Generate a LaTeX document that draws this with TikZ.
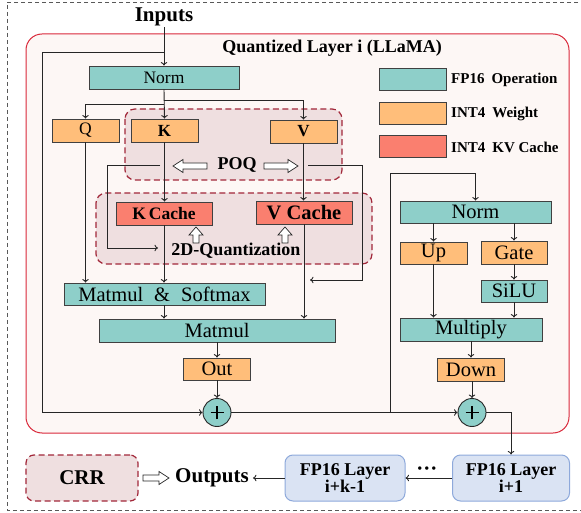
\documentclass[tikz,border=0pt]{standalone}
\usepackage{fontspec}
\setmainfont{Liberation Serif}
\usetikzlibrary{arrows.meta}

\definecolor{fpteal}{HTML}{8ECFC9}
\definecolor{wtorange}{HTML}{FFBE7A}
\definecolor{kvred}{HTML}{FA7F6F}
\definecolor{layerred}{HTML}{D9283A}
\definecolor{layerfill}{HTML}{FDF7F5}
\definecolor{quantfill}{HTML}{EFDFE0}
\definecolor{quantedge}{HTML}{A2283A}
\definecolor{fpblue}{HTML}{DAE3F3}
\definecolor{fpblueedge}{HTML}{8EA9DB}

\newcommand{\setfs}[1]{\fontsize{#1}{#1}\selectfont}
% hollow block arrow: tail x, tip x, y
\newcommand{\hollowh}[3]{%
  \draw[hollow] (#1,{#3-3}) -- ({#2-(#2-#1)/abs(#2-#1)*10},{#3-3}) -- ({#2-(#2-#1)/abs(#2-#1)*10},{#3-6.5})
    -- (#2,#3) -- ({#2-(#2-#1)/abs(#2-#1)*10},{#3+6.5}) -- ({#2-(#2-#1)/abs(#2-#1)*10},{#3+3}) -- (#1,{#3+3}) -- cycle;}
% hollow upward block arrow: x, tail y, tip y
\newcommand{\hollowup}[3]{%
  \draw[hollow] ({#1-3},#2) -- ({#1-3},{#3+8}) -- ({#1-7},{#3+8}) -- (#1,#3)
    -- ({#1+7},{#3+8}) -- ({#1+3},{#3+8}) -- ({#1+3},#2) -- cycle;}

\tikzset{
  box/.style={draw=black!75, line width=0.8pt, inner sep=0pt, rectangle},
  fpbox/.style={box, fill=fpteal},
  wbox/.style={box, fill=wtorange},
  kvbox/.style={box, fill=kvred},
  conn/.style={draw=black!85, line width=0.9pt},
  arr/.style={conn, -{To[length=3.5pt,width=6.5pt]}},
  quantreg/.style={draw=quantedge, dash pattern=on 6pt off 3.5pt, line width=1.2pt, fill=quantfill, rounded corners=10pt},
  hollow/.style={draw=black!85, fill=white, line width=0.7pt},
  layerbox/.style={draw=fpblueedge, fill=fpblue, line width=1pt, rounded corners=8pt, inner sep=0pt, align=center},
  plusnode/.style={circle, draw=black!85, fill=fpteal, line width=0.9pt, minimum size=28pt, inner sep=0pt},
  legtext/.style={anchor=west, inner sep=0pt, font=\setfs{15}\bfseries}
}

\begin{document}
\begin{tikzpicture}[x=1pt,y=-1pt]
\useasboundingbox (0,0) rectangle (581,513);

% outer frame
\draw[draw=black!65, line width=0.9pt, dash pattern=on 4pt off 3pt] (585,2) -- (7,2) -- (7,510) -- (585,510);

% quantized layer container
\draw[draw=layerred, fill=layerfill, line width=1pt, rounded corners=16pt] (26,34) rectangle (569,433);
\node (title) at (332,48) {\setfs{18}\bfseries Quantized Layer i (LLaMA)};

% quantization regions
\draw[quantreg] (125,109) rectangle (342,180);
\draw[quantreg] (96,193) rectangle (372,264);

% input
\node[inner sep=1pt] (inputs) at (164,17) {\setfs{21}\bfseries Inputs};

% attention block
\node[fpbox, minimum width=150pt, minimum height=23pt] (norm1) at (164,77.5) {\setfs{17.5}Norm};
\node[wbox, minimum width=67pt, minimum height=23pt] (q) at (85.5,130.5) {\setfs{17.5}Q};
\node[wbox, minimum width=67pt, minimum height=23pt] (k) at (164.5,130.5) {\setfs{17}\bfseries K};
\node[wbox, minimum width=67pt, minimum height=23pt] (v) at (303.5,131.5) {\setfs{17}\bfseries V};
\node (poq) at (237,165) {\setfs{18}\bfseries POQ};
\node[kvbox, minimum width=96pt, minimum height=23pt] (kc) at (164,213.5) {\setfs{17.5}\bfseries K\hspace{3pt}Cache};
\node[kvbox, minimum width=96pt, minimum height=23pt] (vc) at (304,212.5) {\setfs{20.5}\bfseries V Cache};
\node (twod) at (236,251) {\setfs{18}\bfseries 2D-Quantization};
\node[fpbox, minimum width=201pt, minimum height=22pt] (ms) at (164.5,294) {\setfs{20.5}Matmul\hspace{11pt}\&\hspace{11pt}Softmax};
\node[fpbox, minimum width=236pt, minimum height=23pt] (mm) at (217,330.5) {\setfs{20.5}Matmul};
\node[wbox, minimum width=67pt, minimum height=22pt] (out) at (217,369) {\setfs{20.5}Out};
\node[plusnode] (plus1) at (217,412.5) {};

% feed-forward block
\node[fpbox, minimum width=151pt, minimum height=22pt] (norm2) at (475.5,212) {\setfs{20.5}Norm};
\node[wbox, minimum width=67pt, minimum height=22pt] (up) at (433.5,253) {\setfs{20.5}Up};
\node[wbox, minimum width=66pt, minimum height=23pt] (gate) at (514,252.5) {\setfs{20.5}Gate};
\node[fpbox, minimum width=66pt, minimum height=22pt] (silu) at (514,291) {\setfs{20.5}SiLU};
\node[fpbox, minimum width=142pt, minimum height=23pt] (mult) at (471,329.5) {\setfs{20.5}Multiply};
\node[wbox, minimum width=67pt, minimum height=23pt] (down) at (471,369.5) {\setfs{20.5}Down};
\node[plusnode] (plus2) at (472,412.5) {};

% plus signs
\foreach \p in {plus1,plus2} {
  \draw[line width=1.3pt] ([xshift=-6.5pt]\p.center) -- ([xshift=6.5pt]\p.center);
  \draw[line width=1.3pt] ([yshift=-6.5pt]\p.center) -- ([yshift=6.5pt]\p.center);
}

% legend
\node[fpbox, minimum width=67pt, minimum height=22pt] (leg1) at (412.5,79) {};
\node[wbox, minimum width=67pt, minimum height=22pt] (leg2) at (412.5,113) {};
\node[kvbox, minimum width=67pt, minimum height=22pt] (leg3) at (412.5,146) {};
\node[legtext] (legt1) at (451,80) {FP16\hspace{7pt}Operation};
\node[legtext] (legt2) at (451,114) {INT4\hspace{7pt}Weight};
\node[legtext] (legt3) at (451,147) {INT4\hspace{7pt}KV Cache};

% following layers and outputs
\node[layerbox, minimum width=117pt, minimum height=46pt] (fpA) at (511,478) {\setfs{18}\bfseries\baselineskip=21pt FP16 Layer\\ \setfs{18}\bfseries i+1};
\node[layerbox, minimum width=120pt, minimum height=46pt] (fpB) at (345,478) {\setfs{18}\bfseries FP16 Layer\\ \setfs{18}\bfseries i+k-1};
\node (dots) at (427,471) {\setfs{21}\bfseries ···};
\node[inner sep=4pt] (outputs) at (212,478) {\setfs{21}\bfseries Outputs};
\node[draw=quantedge, dash pattern=on 6pt off 3.5pt, line width=1.2pt, fill=quantfill, rounded corners=8pt,
      minimum width=112pt, minimum height=46pt] (crr) at (82,478) {\setfs{21}\bfseries CRR};

% hollow arrows
\hollowh{207}{173}{166}
\hollowh{264}{298}{166}
\hollowh{143}{169}{478}
\hollowup{196}{243}{227}
\hollowup{285}{243}{227}

% coordinates for routed connectors
\coordinate (inbranch) at (164,52);
\coordinate (resA) at (42,52);
\coordinate (resB) at (42,412.5);
\coordinate (nv) at (164,100);
\coordinate (nq) at (164,104);
\coordinate (poqL) at (160,165);
\coordinate (poqLa) at (107,165);
\coordinate (poqLb) at (107,248);
\coordinate (poqLend) at (158,248);
\coordinate (poqR) at (308,165);
\coordinate (poqRa) at (362,165);
\coordinate (poqRb) at (362,280);
\coordinate (poqRend) at (310,280);
\coordinate (br) at (390,412.5);
\coordinate (brA) at (390,173);
\coordinate (brB) at (475.5,173);
\coordinate (fpin) at (511,412.5);

% connectors: attention
\draw[arr] (inputs.south) -- (norm1.north);
\draw[arr] (inbranch) -- (resA) -- (resB) -- (plus1.west);
\draw[arr] (norm1.south) -- (k.north);
\draw[arr] (nv) -| (v.north);
\draw[arr] (nq) -| (q.north);
\draw[arr] (k.south) -- (k.south |- kc.north);
\draw[arr] (v.south) -- (v.south |- vc.north);
\draw[arr] (poqL) -- (poqLa) -- (poqLb) -- (poqLend);
\draw[arr] (poqR) -- (poqRa) -- (poqRb) -- (poqRend);
\draw[arr] (kc.south) -- (kc.south |- ms.north);
\draw[arr] (q.south) -- (q.south |- ms.north);
\draw[arr] (vc.south) -- (vc.south |- mm.north);
\draw[arr] (ms.south -| kc.south) -- (kc.south |- mm.north);
\draw[arr] (mm.south -| out.north) -- (out.north);
\draw[arr] (out.south) -- (plus1.north);

% connectors: feed-forward
\draw[conn] (plus1.east) -- (br);
\draw[arr] (br) -- (plus2.west);
\draw[arr] (br) -- (brA) -- (brB) -- (norm2.north);
\draw[arr] (norm2.south -| up.north) -- (up.north);
\draw[arr] (norm2.south -| gate.north) -- (gate.north);
\draw[arr] (gate.south) -- (silu.north);
\draw[arr] (silu.south) -- (silu.south |- mult.north);
\draw[arr] (up.south) -- (up.south |- mult.north);
\draw[arr] (mult.south -| down.north) -- (down.north);
\draw[arr] (down.south -| plus2.north) -- (plus2.north);

% connectors: later layers
\draw[arr] (plus2.east) -- (fpin) -- (fpin |- fpA.north);
\draw[arr] (fpA.west) -- (fpB.east);
\draw[arr] (fpB.west) -- (outputs.east);
\end{tikzpicture}
\end{document}
